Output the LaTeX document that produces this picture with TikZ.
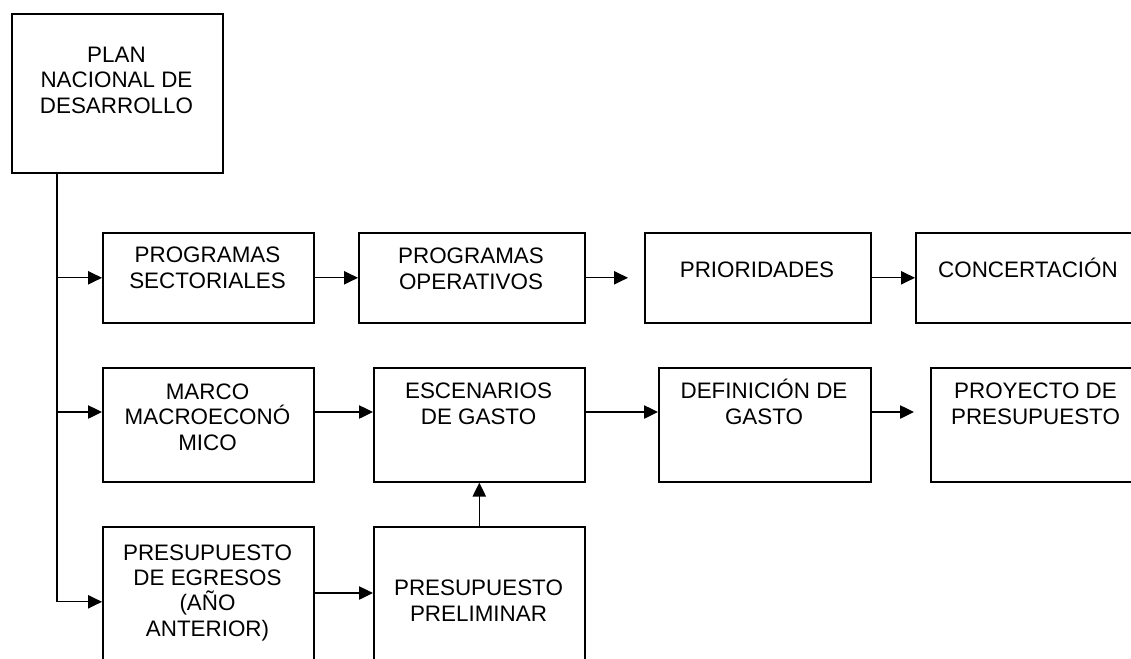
\documentclass[tikz,border=0pt]{standalone}
\usepackage{fontspec}
\setmainfont{Liberation Sans}
\usetikzlibrary{arrows.meta}

\begin{document}
\begin{tikzpicture}[x=0.75pt,y=-0.75pt,
  caja/.style={draw, line width=1.2pt, inner sep=0pt, anchor=north west},
  texto/.style={anchor=base, inner sep=0pt, align=center, font=\fontsize{16.8}{19}\selectfont},
  flecha/.style={line width=1pt, -{Triangle[length=10.5pt,width=10pt]}}]
\clip (0,0) rectangle (1131,658);

\node[caja, minimum width=158.25pt, minimum height=119.25pt] (plan) at (11,13) {}; %plan
\node[caja, minimum width=158.25pt, minimum height=67.5pt] (sect) at (102,232) {}; %fila 1
\node[caja, minimum width=169.5pt, minimum height=67.5pt] (oper) at (358,232) {};
\node[caja, minimum width=169.5pt, minimum height=67.5pt] (prior) at (644,232) {};
\node[caja, minimum width=169.5pt, minimum height=67.5pt] (conc) at (915,232) {};
\node[caja, minimum width=158.25pt, minimum height=85.5pt] (marco) at (102,367) {}; %fila 2
\node[caja, minimum width=158.25pt, minimum height=85.5pt] (escen) at (373,367) {};
\node[caja, minimum width=159pt, minimum height=85.5pt] (defin) at (658,367) {};
\node[caja, minimum width=158.25pt, minimum height=85.5pt] (proy) at (930,367) {};
\node[caja, minimum width=158.25pt, minimum height=112.5pt] (egres) at (102,526) {}; %fila 3
\node[caja, minimum width=158.25pt, minimum height=112.5pt] (prelim) at (373,526) {};


\node[texto] (tplan) at (116.5,113) {PLAN\\NACIONAL DE\\DESARROLLO};
\node[texto] (tsect) at (207.5,288) {PROGRAMAS\\SECTORIALES};
\node[texto] (toper) at (471,289) {PROGRAMAS\\OPERATIVOS};
\node[texto] (tprior) at (757,277) {PRIORIDADES};
\node[texto] (tconc) at (1028,277) {CONCERTACIÓN};
\node[texto] (tmarco) at (207.5,450) {MARCO\\MACROECONÓ\\MICO};
\node[texto] (tescen) at (478.5,424) {ESCENARIOS\\DE GASTO};
\node[texto] (tdefin) at (764,424) {DEFINICIÓN DE\\GASTO};
\node[texto] (tproy) at (1035.5,424) {PROYECTO DE\\PRESUPUESTO};
\node[texto] (tegres) at (207.5,636) {PRESUPUESTO\\DE EGRESOS\\(AÑO\\ANTERIOR)};
\node[texto] (tprelim) at (478.5,621) {PRESUPUESTO\\PRELIMINAR};


\coordinate (tronco) at (57,172); %linea del plan
\coordinate (fila2) at (0,412);
\coordinate (fila3) at (0,593);

\draw[line width=1pt] (tronco) -- (tronco |- egres.west);
\draw[flecha] (tronco) |- (sect.west);
\draw[flecha] (tronco) |- (marco.west |- fila2);
\draw[flecha] (tronco) |- (egres.west);

\draw[flecha] (sect) -- (oper);
\draw[flecha, shorten >=12pt] (oper) -- (prior);
\draw[flecha] (prior) -- (conc);

\draw[flecha] (marco.east |- fila2) -- (escen.west |- fila2);
\draw[flecha] (escen.east |- fila2) -- (defin.west |- fila2);
\draw[flecha, shorten >=12pt] (defin.east |- fila2) -- (proy.west |- fila2);

\draw[flecha] (egres.east |- fila3) -- (prelim.west |- fila3);
\draw[flecha] (prelim) -- (escen);

\end{tikzpicture}
\end{document}
